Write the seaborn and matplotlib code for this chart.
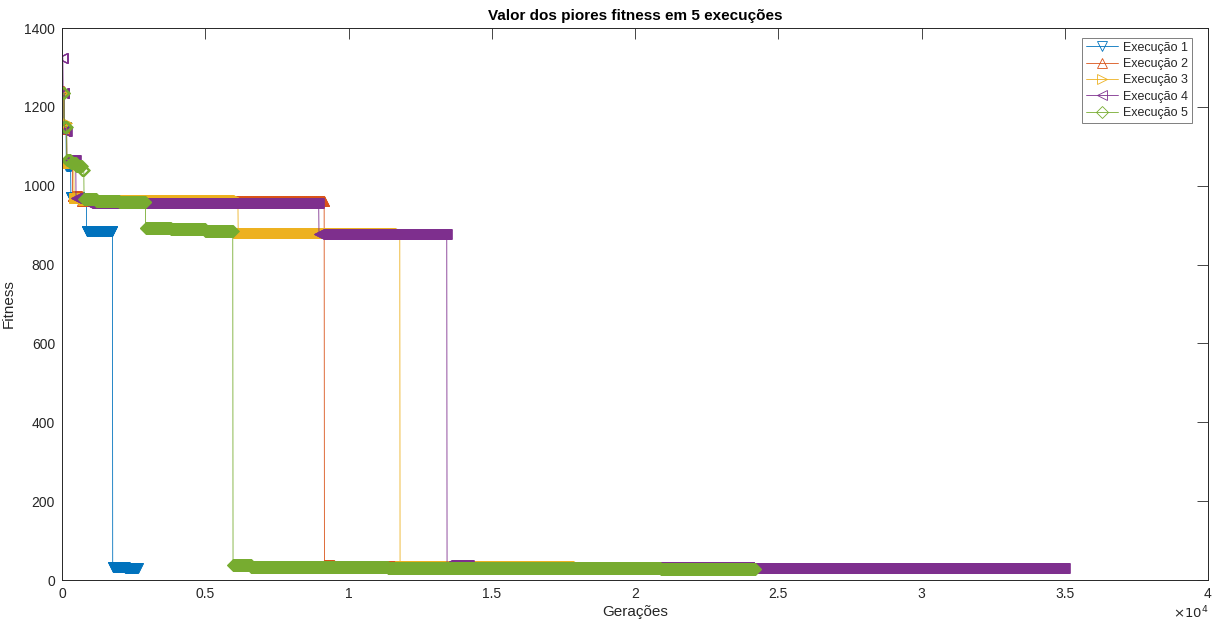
import numpy as np
import pandas as pd
import matplotlib
matplotlib.use("Agg")
import matplotlib.pyplot as plt
from matplotlib.ticker import FuncFormatter
import seaborn as sns

# Worst fitness per run: generation where the value changes, and the new value
run1_gen = [0, 60, 150, 310, 600, 860, 1300, 1770, 2200]
run1_fit = [1232, 1150, 1050, 972, 962, 886, 884, 34, 31]
run1_end = 2650

run2_gen = [0, 70, 160, 370, 700, 9160, 9500]
run2_fit = [1240, 1145, 1062, 975, 962, 39, 35]
run2_end = 14000

run3_gen = [0, 80, 170, 420, 750, 6150, 11800]
run3_fit = [1236, 1158, 1058, 970, 963, 879, 35]
run3_end = 18000

run4_gen = [0, 40, 90, 170, 490, 900, 8970, 13440, 14200, 24000]
run4_fit = [1325, 1235, 1140, 1065, 968, 955, 877, 37, 33, 30]
run4_end = 35000

run5_gen = [0, 80, 170, 300, 500, 700, 770, 1200, 2000, 2920, 3800, 5000, 5970, 6600, 11380, 20900]
run5_fit = [1234, 1150, 1066, 1058, 1050, 1041, 967, 962, 958, 893, 889, 885, 37, 34, 31, 28]
run5_end = 24200

labels = ["Execução 1", "Execução 2", "Execução 3", "Execução 4", "Execução 5"]
colors = ["#0072BD", "#D95319", "#EDB120", "#7E2F8E", "#77AC30"]
markers = ["v", "^", ">", "<", "D"]
x_ticks = [0, 5000, 10000, 15000, 20000, 25000, 30000, 35000, 40000]
y_ticks = [0, 200, 400, 600, 800, 1000, 1200, 1400]

runs = [
    (run1_gen, run1_fit, run1_end),
    (run2_gen, run2_fit, run2_end),
    (run3_gen, run3_fit, run3_end),
    (run4_gen, run4_fit, run4_end),
    (run5_gen, run5_fit, run5_end),
]


def per_generation(gens, fits, end, every=10):
    """Hold each worst-fitness value until the next change."""
    g = np.arange(0, end + 1, every)
    idx = np.searchsorted(np.asarray(gens), g, side="right") - 1
    return pd.DataFrame({"Gerações": g, "Fitness": np.asarray(fits, float)[idx]})


sns.set_theme(style="white")
plt.rcParams["font.family"] = ["Liberation Sans", "DejaVu Sans"]

fig = plt.figure(figsize=(12.16, 6.21), dpi=100)
ax = fig.add_axes([62 / 1216, 1 - 580 / 621, 1146 / 1216, 552 / 621])

for (gens, fits, end), lab, col, mk in zip(runs, labels, colors, markers):
    df = per_generation(gens, fits, end)
    sns.lineplot(
        data=df, x="Gerações", y="Fitness", ax=ax, label=lab,
        color=col, marker=mk, markersize=6.0 if mk == "D" else 7.2,
        mfc="none", mec=col, mew=0.6, lw=0.6,
        estimator=None, errorbar=None, sort=False,
    )

edge = "#262626"
ax.set_xlim(0, 40000)
ax.set_ylim(0, 1400)
ax.set_xticks(x_ticks)
ax.set_yticks(y_ticks)
ax.xaxis.set_major_formatter(FuncFormatter(lambda v, p: f"{v / 1e4:g}"))
ax.tick_params(direction="in", length=8, width=0.6, colors=edge, labelsize=10,
               top=True, right=True, pad=5)
for s in ax.spines.values():
    s.set_color(edge)
    s.set_linewidth(0.7)

ax.set_xlabel("Gerações", fontsize=11, color=edge, labelpad=3)
ax.set_ylabel("Fitness", fontsize=11, color=edge, labelpad=6)
ax.set_title("Valor dos piores fitness em 5 execuções", fontsize=11,
             fontweight="bold", color="black", pad=6)
ax.text(1.0, -0.06, r"$\times10^{4}$", transform=ax.transAxes, ha="right",
        va="center", fontsize=9.5, color=edge)

leg = ax.legend(loc="upper right", bbox_to_anchor=(0.986, 0.982), fontsize=9,
                frameon=True, fancybox=False, framealpha=1, edgecolor="#7f7f7f",
                handlelength=2.6, handletextpad=0.4, labelspacing=0.35,
                borderpad=0.3, borderaxespad=0.0)
leg.get_frame().set_linewidth(0.7)
for h in leg.legend_handles:
    h.set_markersize(6.5)

fig.savefig("out.png", dpi=100)
